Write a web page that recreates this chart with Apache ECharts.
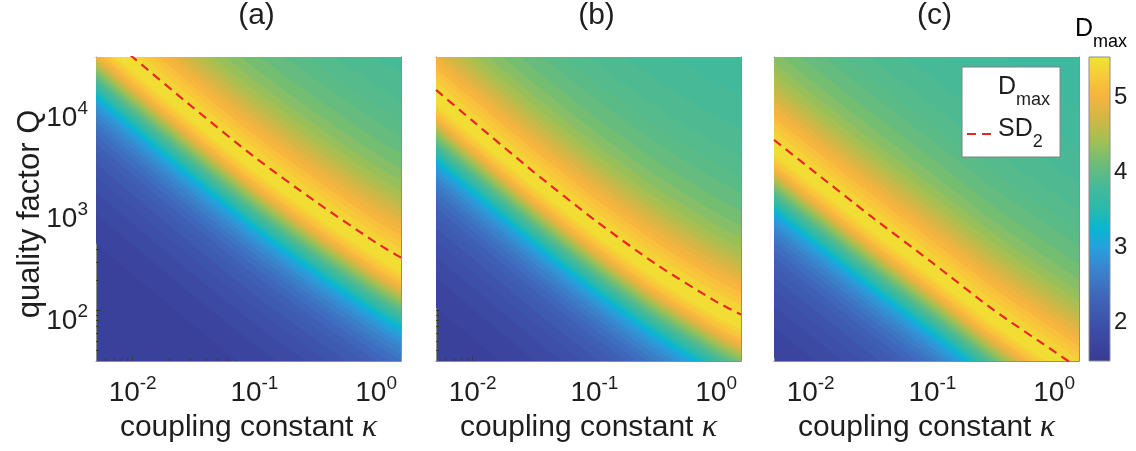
<!DOCTYPE html>
<html><head><meta charset="utf-8">
<script src="https://cdn.jsdelivr.net/npm/echarts@6/dist/echarts.min.js"></script>
<style>html,body{margin:0;padding:0;background:#fff}#chart{width:1136px;height:451px}</style>
</head><body><div id="chart"></div>
<script>
// ---------------- data ----------------
// coupling constant kappa columns where the SD2 curve was read
const kappaCols = [0.005, 0.01, 0.0316, 0.1, 0.316, 1, 1.6];
// SD2 curve (quality factor Q) for panels (a), (b), (c)
const sd2QA = [64700, 31600, 9950, 3270, 1190, 465, 331];
const sd2QB = [14960, 7400, 2330, 783, 289, 122, 90.8];
const sd2QC = [4810, 2490, 840, 295, 101.6, 39.3, 26.7];
// cross-section of Dmax across the band: level and its offset (decades of Q) from the SD2 curve
const risingLevels  = [1.7, 1.8, 1.9, 2.0, 2.1, 2.2, 2.3, 2.4, 2.5, 2.6, 2.7, 2.8, 2.9, 3.0, 3.1, 3.2, 3.3, 3.4, 3.5, 3.6, 3.7, 3.8, 3.9, 4.0, 4.1, 4.2, 4.3, 4.4, 4.5, 4.6, 4.7, 4.8, 4.9, 5.0, 5.1, 5.2, 5.3, 5.4];
const risingOffsets = [-2.148, -1.852, -1.645, -1.488, -1.360, -1.251, -1.163, -1.084, -1.015, -0.956, -0.897, -0.847, -0.798, -0.759, -0.734, -0.709, -0.685, -0.660, -0.635, -0.611, -0.586, -0.562, -0.537, -0.512, -0.488, -0.463, -0.438, -0.414, -0.394, -0.374, -0.355, -0.335, -0.310, -0.286, -0.256, -0.227, -0.187, -0.148];
const fallingLevels  = [5.4, 5.3, 5.2, 5.1, 5.0, 4.9, 4.8, 4.7, 4.6, 4.5, 4.4, 4.3, 4.2, 4.1, 4.0, 3.95, 3.9, 3.85, 3.8, 3.75];
const fallingOffsets = [0.020, 0.089, 0.158, 0.217, 0.276, 0.335, 0.394, 0.453, 0.512, 0.581, 0.660, 0.759, 0.877, 1.025, 1.202, 1.360, 1.557, 1.823, 2.167, 2.562];
const dLow = 1.6, dPeak = 5.5, dFar = 3.7;
// ticks
const panelTitles = ['(a)', '(b)', '(c)'];
const xTickValues = [0.01, 0.1, 1];
const yTickValues = [100, 1000, 10000];
const xMinorTicks = [0.006, 0.007, 0.008, 0.009, 0.02, 0.03, 0.04, 0.05, 0.06, 0.07, 0.08, 0.09, 0.2, 0.3, 0.4, 0.5, 0.6, 0.7, 0.8, 0.9];
const yMinorTicks = [40, 50, 60, 70, 80, 90, 200, 300, 400, 500, 600, 700, 800, 900, 2000, 3000, 4000, 5000, 6000, 7000, 8000, 9000, 20000, 30000];
const cbTickValues = [2, 3, 4, 5];
const cbMin = 1.49, cbMax = 5.53;

// ---------------- styling ----------------
const FONT = "'Liberation Sans', Arial, Helvetica, sans-serif";
const TXT = '#1e1e1e';
const AXIS_C = '#8e8e8e';
const TICK_C = '#3a3a3a';
const X_MIN = 0.005, X_MAX = 1.6, Y_MIN = 31.6228, Y_MAX = 31622.8;
const GRID_LEFTS = [96, 436, 774];
const GRID_TOP = 57, GRID_W = 305, GRID_H = 304;
const CMAP = [
  [1.49, '#383a94'], [1.9, '#3d4ca6'], [2.3, '#3f62b7'], [2.7, '#3b83cc'], [3.0, '#26a1dd'],
  [3.25, '#08b6d3'], [3.5, '#28baae'], [3.8, '#45b99a'], [4.1, '#6bbd78'], [4.4, '#a0c055'],
  [4.7, '#d0b745'], [5.0, '#f7b33f'], [5.25, '#f8c83a'], [5.53, '#eee630']
];
function hexToRgb(h) { return [parseInt(h.slice(1, 3), 16), parseInt(h.slice(3, 5), 16), parseInt(h.slice(5, 7), 16)]; }
function cmap(v) {
  if (v <= CMAP[0][0]) return CMAP[0][1];
  for (let i = 1; i < CMAP.length; i++) {
    if (v <= CMAP[i][0]) {
      const t = (v - CMAP[i - 1][0]) / (CMAP[i][0] - CMAP[i - 1][0]);
      const a = hexToRgb(CMAP[i - 1][1]), b = hexToRgb(CMAP[i][1]);
      return 'rgb(' + a.map((x, k) => Math.round(x + (b[k] - x) * t)).join(',') + ')';
    }
  }
  return CMAP[CMAP.length - 1][1];
}
const POW_RICH = {
  b: { fontSize: 28, fontFamily: FONT, color: TXT, verticalAlign: 'bottom' },
  s: { fontSize: 19, fontFamily: FONT, color: TXT, verticalAlign: 'top', padding: [0, 0, 14, 0] }
};
const SUB_RICH = {
  m: { fontSize: 25, fontFamily: FONT, color: TXT, verticalAlign: 'top', lineHeight: 30 },
  s: { fontSize: 18, fontFamily: FONT, color: TXT, verticalAlign: 'bottom', padding: [16, 0, 0, 0] }
};
function powLabel(v) { return '{b|10}{s|' + Math.round(Math.log10(v)) + '}'; }

const grid = [], xAxis = [], yAxis = [], series = [], graphic = [];
const sd2All = [sd2QA, sd2QB, sd2QC];

function mkAxis(kind, gi, position, ticks, len, opts) {
  const isX = kind === 'x';
  const ax = {
    type: 'log', logBase: 10, gridIndex: gi, position,
    min: isX ? X_MIN : Y_MIN, max: isX ? X_MAX : Y_MAX,
    axisLine: { show: !!opts.line, onZero: false, lineStyle: { color: AXIS_C, width: 1 } },
    axisTick: { show: true, inside: true, length: len, customValues: ticks, lineStyle: { color: TICK_C, width: 1 } },
    axisLabel: { show: false },
    splitLine: { show: false }, minorTick: { show: false }, minorSplitLine: { show: false },
    silent: true
  };
  if (opts.label) {
    ax.axisLabel = isX
      ? { show: true, customValues: xTickValues, margin: 13, formatter: powLabel, rich: POW_RICH }
      : { show: true, customValues: yTickValues, margin: 8, formatter: powLabel, rich: POW_RICH, padding: [16, 0, 0, 0] };
  }
  if (opts.name) {
    ax.name = opts.name;
    ax.nameLocation = 'middle';
    ax.nameGap = opts.nameGap;
    ax.nameTextStyle = {
      rich: {
        n: { fontSize: 30, fontFamily: FONT, color: TXT },
        k: { fontSize: 32, fontFamily: "'Liberation Serif', 'DejaVu Serif', serif", fontStyle: 'italic', color: TXT }
      }
    };
  }
  return ax;
}

GRID_LEFTS.forEach((left, p) => {
  grid.push({ left, top: GRID_TOP, width: GRID_W, height: GRID_H, show: true,
    backgroundColor: cmap((dLow + risingLevels[0]) / 2), borderWidth: 0, containLabel: false, outerBoundsMode: 'none' });
  const xi = xAxis.length, yi = yAxis.length;
  xAxis.push(mkAxis('x', p, 'bottom', xTickValues, 5, { line: true, label: true, name: '{n|coupling constant }{k|κ}', nameGap: 46 }));
  xAxis.push(mkAxis('x', p, 'top', xTickValues, 5, { line: true }));
  xAxis.push(mkAxis('x', p, 'bottom', xMinorTicks, 3, {}));
  xAxis.push(mkAxis('x', p, 'top', xMinorTicks, 3, {}));
  yAxis.push(mkAxis('y', p, 'left', yTickValues, 5, p === 0 ? { line: true, label: true } : { line: true }));
  yAxis.push(mkAxis('y', p, 'right', yTickValues, 5, { line: true }));
  yAxis.push(mkAxis('y', p, 'left', yMinorTicks, 3, {}));
  yAxis.push(mkAxis('y', p, 'right', yMinorTicks, 3, {}));

  const sd2 = sd2All[p];
  const band = (offset, color) => ({
    type: 'line', name: 'Dmax', xAxisIndex: xi, yAxisIndex: yi,
    data: kappaCols.map((k, j) => [k, sd2[j] * Math.pow(10, offset)]),
    smooth: 0.25, symbol: 'none', showSymbol: false,
    lineStyle: { width: 0, opacity: 0 },
    areaStyle: { origin: 'end', color, opacity: 1 },
    clip: true, silent: true, animation: false, z: 2, emphasis: { disabled: true }
  });
  risingLevels.forEach((lv, i) => {
    const next = i + 1 < risingLevels.length ? risingLevels[i + 1] : dPeak;
    series.push(band(risingOffsets[i], cmap((lv + next) / 2)));
  });
  fallingLevels.forEach((lv, i) => {
    const next = i + 1 < fallingLevels.length ? fallingLevels[i + 1] : dFar;
    series.push(band(fallingOffsets[i], cmap((lv + next) / 2)));
  });
  series.push({
    type: 'line', name: 'SD2', xAxisIndex: xi, yAxisIndex: yi,
    data: kappaCols.map((k, j) => [k, sd2[j]]),
    smooth: 0.25, symbol: 'none', showSymbol: false,
    itemStyle: { color: '#e8262c' },
    lineStyle: { color: '#e8262c', width: 2.2, type: [9, 6] },
    clip: true, silent: true, animation: false, z: 3, emphasis: { disabled: true }
  });

  graphic.push({ type: 'text', x: left + GRID_W / 2 + 8, y: 16, silent: true,
    style: { text: panelTitles[p], font: '30px ' + FONT, fill: TXT, align: 'center', verticalAlign: 'middle', textAlign: 'center', textVerticalAlign: 'middle' } });
});

// y axis title of panel (a)
graphic.push({ type: 'text', x: 30, y: 214, rotation: Math.PI / 2, silent: true,
  style: { text: 'quality factor Q', font: '31px ' + FONT, fill: TXT, align: 'center', verticalAlign: 'middle', textAlign: 'center', textVerticalAlign: 'middle' } });

// colorbar
const cbGrid = grid.length;
grid.push({ left: 1089, top: GRID_TOP, width: 21, height: GRID_H, containLabel: false, outerBoundsMode: 'none' });
const cbX = xAxis.length, cbY = yAxis.length;
xAxis.push({ type: 'category', gridIndex: cbGrid, data: ['cb'], show: false, boundaryGap: true });
yAxis.push({ type: 'value', gridIndex: cbGrid, position: 'right', min: cbMin, max: cbMax,
  axisLine: { show: false }, splitLine: { show: false },
  axisTick: { show: true, inside: true, length: 4, customValues: cbTickValues, lineStyle: { color: TICK_C } },
  axisLabel: { show: true, customValues: cbTickValues, margin: 4, fontSize: 24, fontFamily: FONT, color: TXT } });
const cbStops = CMAP.slice().reverse().map(([v, c]) => ({ offset: (cbMax - v) / (cbMax - cbMin), color: c }));
series.push({
  type: 'custom', xAxisIndex: cbX, yAxisIndex: cbY, data: [[0, cbMin, cbMax]], silent: true, animation: false,
  renderItem(params, api) {
    const top = api.coord([api.value(0), api.value(2)]);
    const bot = api.coord([api.value(0), api.value(1)]);
    const w = api.size([1, 0])[0];
    return { type: 'rect', shape: { x: top[0] - w / 2, y: top[1], width: w, height: bot[1] - top[1] },
      style: { fill: new echarts.graphic.LinearGradient(0, 0, 0, 1, cbStops), stroke: AXIS_C, lineWidth: 1 } };
  }
});
graphic.push({ type: 'text', x: 1075, y: 16.7, silent: true,
  style: { text: '{m|D}{s|max}', rich: SUB_RICH, align: 'left', verticalAlign: 'top', textAlign: 'left', textVerticalAlign: 'top' } });

const option = {
  animation: false,
  backgroundColor: '#ffffff',
  textStyle: { fontFamily: FONT },
  grid, xAxis, yAxis, series, graphic,
  legend: {
    orient: 'vertical', left: 962, top: 67, padding: [8, 10, 6, 4], itemGap: 8,
    itemWidth: 26, itemHeight: 14, backgroundColor: '#ffffff', borderColor: '#808080', borderWidth: 1,
    selectedMode: false, z: 10,
    data: [
      { name: 'Dmax', icon: 'rect', itemStyle: { opacity: 0 }, lineStyle: { opacity: 0 } },
      { name: 'SD2', itemStyle: { opacity: 0 } }
    ],
    formatter: n => n === 'Dmax' ? '{m|D}{s|max}' : '{m|SD}{s|2}',
    textStyle: { rich: SUB_RICH }
  }
};
const chart = echarts.init(document.getElementById('chart'), null, { renderer: 'canvas' });
chart.setOption(option);
</script></body></html>
